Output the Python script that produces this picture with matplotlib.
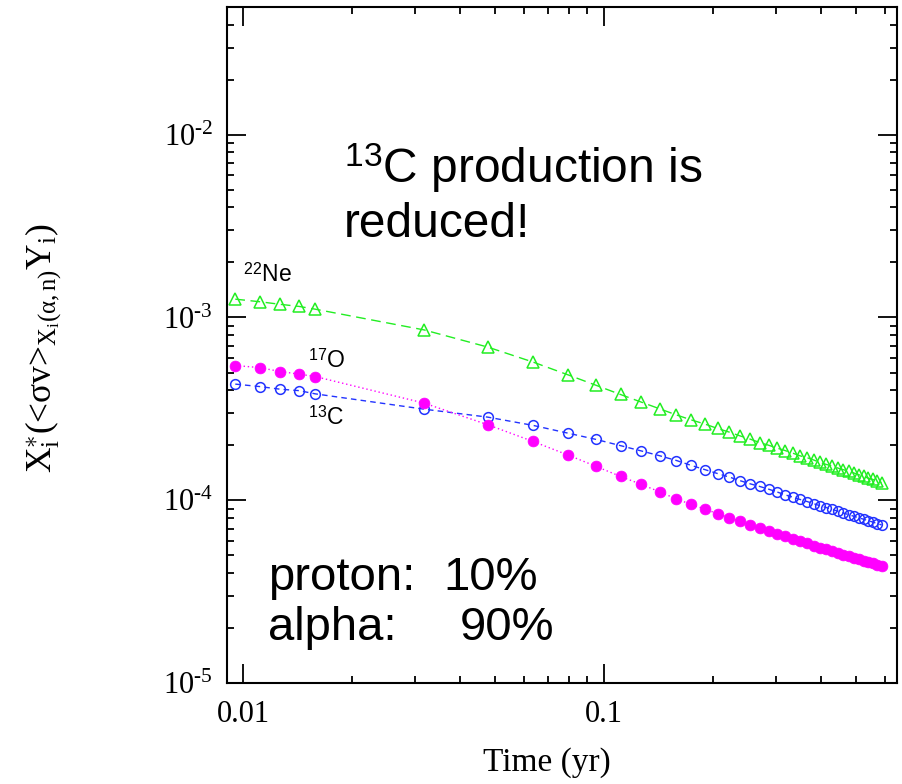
import matplotlib
matplotlib.use("Agg")
import matplotlib.pyplot as plt
import numpy as np
from matplotlib.ticker import LogLocator, NullFormatter, FuncFormatter

plt.rcParams["mathtext.fontset"] = "custom"
plt.rcParams["mathtext.rm"] = "Liberation Serif"
plt.rcParams["mathtext.it"] = "Liberation Serif:italic"
plt.rcParams["mathtext.sf"] = "Liberation Sans"

# time in years
time_yr = [0.00952, 0.01111, 0.01270, 0.01429, 0.01587, 0.03175, 0.04762, 0.06349,
           0.07937, 0.09524, 0.1111, 0.1270, 0.1429, 0.1587, 0.1746, 0.1905, 0.2063,
           0.2222, 0.2381, 0.2540, 0.2698, 0.2857, 0.3016, 0.3175, 0.3333, 0.3492,
           0.3651, 0.3810, 0.3968, 0.4127, 0.4286, 0.4444, 0.4603, 0.4762, 0.4921,
           0.5079, 0.5238, 0.5397, 0.5556, 0.5714, 0.5873]

ne22 = [1.26e-3, 1.22e-3, 1.18e-3, 1.15e-3, 1.11e-3, 8.55e-4, 6.89e-4, 5.71e-4,
        4.86e-4, 4.25e-4, 3.79e-4, 3.44e-4, 3.16e-4, 2.93e-4, 2.75e-4, 2.61e-4,
        2.47e-4, 2.36e-4, 2.25e-4, 2.16e-4, 2.07e-4, 2.00e-4, 1.93e-4, 1.87e-4,
        1.81e-4, 1.75e-4, 1.71e-4, 1.66e-4, 1.61e-4, 1.57e-4, 1.54e-4, 1.50e-4,
        1.47e-4, 1.44e-4, 1.41e-4, 1.38e-4, 1.35e-4, 1.32e-4, 1.30e-4, 1.27e-4, 1.25e-4]

c13 = [4.32e-4, 4.19e-4, 4.05e-4, 3.98e-4, 3.82e-4, 3.15e-4, 2.85e-4, 2.57e-4,
       2.33e-4, 2.15e-4, 1.99e-4, 1.86e-4, 1.75e-4, 1.65e-4, 1.55e-4, 1.47e-4,
       1.40e-4, 1.34e-4, 1.28e-4, 1.23e-4, 1.19e-4, 1.15e-4, 1.11e-4, 1.07e-4,
       1.04e-4, 1.01e-4, 9.84e-5, 9.57e-5, 9.33e-5, 9.12e-5, 8.91e-5, 8.71e-5,
       8.51e-5, 8.34e-5, 8.17e-5, 8.02e-5, 7.87e-5, 7.73e-5, 7.59e-5, 7.45e-5, 7.33e-5]

o17 = [5.46e-4, 5.32e-4, 5.06e-4, 4.90e-4, 4.75e-4, 3.40e-4, 2.59e-4, 2.10e-4,
       1.77e-4, 1.53e-4, 1.35e-4, 1.22e-4, 1.11e-4, 1.016e-4, 9.48e-5, 8.93e-5,
       8.45e-5, 8.04e-5, 7.66e-5, 7.33e-5, 7.05e-5, 6.79e-5, 6.56e-5, 6.34e-5,
       6.15e-5, 5.97e-5, 5.81e-5, 5.65e-5, 5.51e-5, 5.38e-5, 5.26e-5, 5.14e-5,
       5.04e-5, 4.93e-5, 4.84e-5, 4.75e-5, 4.67e-5, 4.59e-5, 4.51e-5, 4.44e-5, 4.37e-5]

W, H = 903, 784


def fx(x):
    return x / W


def fy(y):
    return 1 - y / H


def pow_label(v, pos):
    e = int(round(np.log10(v)))
    return r"$\mathdefault{10^{\text{-}%d}}$" % (-e)


fig = plt.figure(figsize=(W / 100, H / 100), dpi=100)
ax = fig.add_axes([fx(227), fy(683), (897 - 227) / W, (683 - 7) / H])

ax.plot(time_yr, ne22, color="#22ee22", lw=1.0, dashes=(7, 4),
        marker="^", ms=8, mfc="none", mec="#22ee22", mew=1.1)
ax.plot(time_yr, c13, color="#2233ff", lw=1.0, dashes=(4, 3),
        marker="o", ms=7, mfc="none", mec="#2233ff", mew=1.1)
ax.plot(time_yr, o17, color="#ff00ff", lw=1.0, dashes=(1, 2),
        marker="o", ms=7.8, mfc="#ff00ff", mec="#ff00ff", mew=0.5)

ax.set_xscale("log")
ax.set_yscale("log")
ax.set_xlim(0.00903, 0.648)
ax.set_ylim(1e-5, 0.05)

ax.xaxis.set_minor_locator(LogLocator(base=10, subs=range(2, 10), numticks=10))
ax.xaxis.set_minor_formatter(NullFormatter())
ax.yaxis.set_major_formatter(FuncFormatter(pow_label))
ax.yaxis.set_minor_formatter(NullFormatter())
ax.set_xticks([0.01, 0.1])
ax.set_xticklabels(["0.01", "0.1"])

ax.tick_params(which="both", direction="in", top=True, right=True, width=1.3,
               labelsize=22, labelfontfamily="Liberation Serif")
ax.tick_params(which="major", length=14)
ax.tick_params(which="minor", length=5)
ax.tick_params(axis="x", pad=12)
ax.tick_params(axis="y", pad=10)
for s in ax.spines.values():
    s.set_linewidth(1.5)

fig.text(fx(547), fy(771), "Time (yr)", ha="center", va="baseline",
         fontsize=24, family="Liberation Serif")
fig.text(fx(44), fy(348),
         r"X$_\mathrm{i}^{\ast}$(<σv>$_{\mathrm{X_i(\alpha,n)}}$Y$_\mathrm{i}$)",
         rotation=90, ha="center", va="center", fontsize=25.5,
         family="Liberation Serif")

sans = "Liberation Sans"
fig.text(fx(243), fy(282), r"$^{\mathsf{22}}$Ne", fontsize=16.5, family=sans, va="baseline")
fig.text(fx(308), fy(368), r"$^{\mathsf{17}}$O", fontsize=16.5, family=sans, va="baseline")
fig.text(fx(308), fy(425), r"$^{\mathsf{13}}$C", fontsize=16.5, family=sans, va="baseline")

fig.text(fx(344), fy(183), r"$^{\mathsf{13}}$C production is", fontsize=34.5,
         family=sans, va="baseline")
fig.text(fx(344), fy(237), "reduced!", fontsize=34.5, family=sans, va="baseline")

fig.text(fx(268), fy(590), "proton:", fontsize=34, family=sans, va="baseline")
fig.text(fx(443), fy(590), "10%", fontsize=34, family=sans, va="baseline")
fig.text(fx(268), fy(640), "alpha:", fontsize=34, family=sans, va="baseline")
fig.text(fx(460), fy(640), "90%", fontsize=34, family=sans, va="baseline")

fig.savefig("out.png", dpi=100)
